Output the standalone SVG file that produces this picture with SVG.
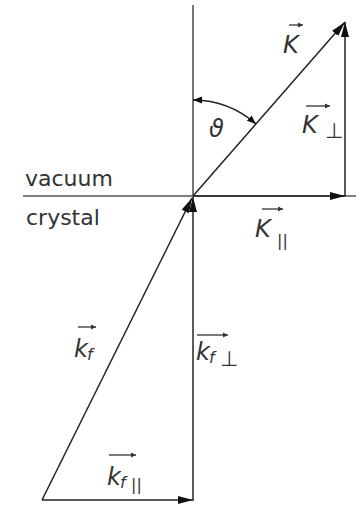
<svg xmlns="http://www.w3.org/2000/svg" width="357" height="507" viewBox="0 0 357 507">
<style>
.ln{stroke:#222;stroke-width:1.5;fill:none}
.ax{stroke:#555;stroke-width:1.6;fill:none}
.lbl{font-family:"DejaVu Sans",sans-serif;font-size:22px;fill:#333}
.m{font-family:"DejaVu Sans",sans-serif;font-style:italic;font-size:24px;fill:#333}
.s{font-family:"DejaVu Sans",sans-serif;font-style:italic;font-size:16px;fill:#333}
.su{font-family:"DejaVu Sans",sans-serif;font-size:16px;fill:#333}
.pp{font-family:"DejaVu Sans",sans-serif;font-size:21px;fill:#333}
.va{stroke:#333;stroke-width:1.3;fill:none}
</style>
<defs>
<marker id="ah" markerWidth="16" markerHeight="8" refX="15" refY="4" orient="auto-start-reverse" markerUnits="userSpaceOnUse">
<path d="M0,0 L15,4 L0,8 z" fill="#111"/>
</marker>
<marker id="as" markerWidth="10" markerHeight="8" refX="9" refY="4" orient="auto-start-reverse" markerUnits="userSpaceOnUse">
<path d="M0,0.5 L9,4 L0,7.5 z" fill="#111"/>
</marker>
<marker id="va" markerWidth="6" markerHeight="6" refX="5" refY="3" orient="auto" markerUnits="userSpaceOnUse">
<path d="M0,0.5 L5,3 L0,5.5 z" fill="#333"/>
</marker>
</defs>
<g id="axes">
<line class="ax" x1="193" y1="5" x2="193" y2="501"/>
<line class="ax" x1="23" y1="196" x2="356" y2="196"/>
</g>
<g id="connectors">
<line id="K" class="ln" x1="193" y1="196" x2="345" y2="22" marker-end="url(#ah)"/>
<line id="Kperp" class="ln" x1="345" y1="196" x2="345" y2="22" marker-end="url(#ah)"/>
<line id="Kpar" class="ln" x1="193" y1="196" x2="345" y2="196" marker-end="url(#ah)"/>
<line id="kf" class="ln" x1="42" y1="500" x2="192" y2="198" marker-end="url(#ah)"/>
<line id="kfperp" class="ax" x1="193" y1="500" x2="193" y2="197" marker-end="url(#ah)"/>
<line id="kfpar" class="ln" x1="42" y1="500" x2="193" y2="500" marker-end="url(#ah)"/>
<path id="theta-arc" class="ln" d="M193,100 A96,96 0 0 1 256,124" marker-start="url(#as)" marker-end="url(#as)"/>
</g>
<g id="region-labels">
<text class="lbl" x="25" y="186">vacuum</text>
<text class="lbl" x="26" y="225">crystal</text>
</g>
<g id="label-K">
<text class="m" x="283" y="53">K</text>
<line class="va" x1="289" y1="25" x2="303" y2="25" marker-end="url(#va)"/>
</g>
<g id="label-Kperp">
<text class="m" x="302" y="133">K</text>
<text class="pp" x="325" y="138">⊥</text>
<line class="va" x1="306" y1="106" x2="330" y2="106" marker-end="url(#va)"/>
</g>
<g id="label-Kpar">
<text class="m" x="255" y="237">K</text>
<text class="su" x="277" y="246">||</text>
<line class="va" x1="262" y1="209" x2="283" y2="209" marker-end="url(#va)"/>
</g>
<g id="label-theta">
<text class="m" x="209" y="137">ϑ</text>
</g>
<g id="label-kf">
<text class="m" x="74" y="357">k</text>
<text class="s" x="87" y="360">f</text>
<line class="va" x1="78" y1="327" x2="96" y2="327" marker-end="url(#va)"/>
</g>
<g id="label-kfperp">
<text class="m" x="196" y="360">k</text>
<text class="s" x="209" y="363">f</text>
<text class="pp" x="220" y="366">⊥</text>
<line class="va" x1="197" y1="335" x2="228" y2="335" marker-end="url(#va)"/>
</g>
<g id="label-kfpar">
<text class="m" x="107" y="485">k</text>
<text class="s" x="120" y="488">f</text>
<text class="su" x="131" y="490">||</text>
<line class="va" x1="109" y1="455" x2="136" y2="455" marker-end="url(#va)"/>
</g>
</svg>
